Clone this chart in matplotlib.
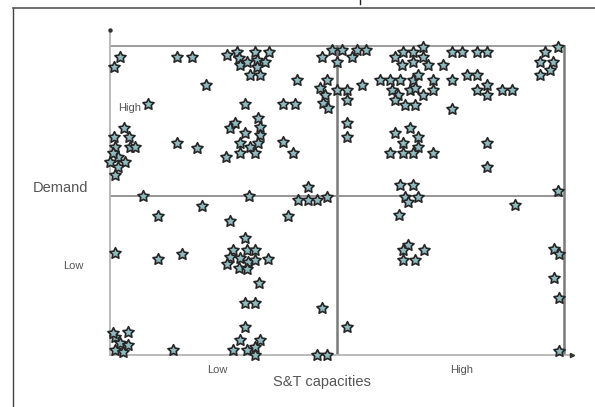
import matplotlib
matplotlib.use("Agg")
import matplotlib.pyplot as plt
from matplotlib.lines import Line2D
from matplotlib.path import Path

plt.rcParams['font.family'] = ['Liberation Sans', 'DejaVu Sans']

# S&T capacity score (0-100) and demand score (0-100) of each region
capacity = [
    2.2, 0.9, 14.8, 18.1, 25.8, 28.0, 28.4, 28.6, 30.2, 31.9, 32.4, 34.1, 35.0, 32.4, 30.8, 33.0,
    21.1, 8.4, 29.7, 3.1, 0.9, 4.2, 4.4, 5.5, 1.1, 0.0, 1.8, 3.3, 1.8, 1.1, 0.7, 14.8,
    19.2, 25.6, 26.4, 27.5, 29.7, 32.6, 33.0, 33.0, 28.6, 30.8, 32.6, 28.6, 31.9, 38.1, 40.3, 38.1,
    40.7, 41.2, 7.3, 30.6, 46.7, 48.9, 50.0, 47.8, 46.3, 47.4, 46.9, 48.0, 50.0, 43.6, 41.4, 43.6,
    45.6, 47.8,
    51.1, 53.3, 54.4, 56.4, 52.2, 52.2, 55.5, 52.2, 52.2, 62.8, 64.5, 66.7, 68.9, 64.3, 66.7, 68.9,
    70.0, 73.3, 75.3, 77.5, 80.8, 83.0, 59.5, 61.7, 63.9, 66.7, 62.1, 63.4, 66.1, 67.2, 67.8, 71.1,
    71.1, 68.9, 62.8, 65.0, 67.2, 75.3, 78.6, 80.8, 80.8, 83.0, 83.0, 86.3, 88.5, 75.3, 94.7, 95.8,
    97.6, 96.9, 94.7, 98.7, 62.8, 66.1, 64.5, 67.8, 67.8, 61.7, 64.5, 66.7, 71.1, 83.0, 83.0, 98.7,
    63.9, 66.7, 65.0, 67.8, 65.6, 89.2,
    10.6, 20.3, 26.4, 39.2, 1.1, 10.6, 15.9, 29.7, 27.1, 30.2, 31.9, 26.4, 28.6, 30.4, 31.9, 34.8,
    25.8, 28.4, 30.2, 32.8, 29.7, 31.9, 29.7, 28.6, 33.0, 27.1, 30.2, 31.9, 31.9, 1.1, 4.0, 2.2,
    4.0, 1.1, 2.9, 0.7, 13.9, 46.7, 45.6, 47.8,
    52.2, 63.7, 65.6, 64.5, 69.2, 64.5, 67.2, 97.8, 98.9, 97.8, 98.9, 98.9,
]
demand = [
    96.4, 93.2, 96.4, 96.4, 97.1, 98.1, 96.1, 93.9, 94.8, 98.1, 95.5, 94.8, 98.1, 93.2, 90.6, 90.6,
    87.4, 81.2, 81.2, 73.5, 70.6, 70.6, 67.3, 67.3, 67.3, 62.5, 64.1, 62.5, 60.8, 58.3, 65.4, 68.6,
    67.0, 64.1, 73.5, 75.1, 71.8, 76.7, 73.8, 71.2, 68.6, 67.3, 68.6, 65.4, 65.4, 68.9, 65.4, 81.2,
    81.2, 89.0, 51.5, 51.5, 96.4, 98.7, 94.8, 89.0, 86.4, 84.1, 81.6, 79.9, 85.8, 54.4, 50.2, 50.2,
    50.2, 51.1,
    98.7, 96.4, 98.7, 98.7, 85.8, 82.5, 87.4, 75.1, 70.6, 96.4, 98.1, 98.1, 99.7, 93.9, 94.8, 96.4,
    93.9, 93.9, 98.1, 98.1, 98.1, 98.1, 89.0, 89.0, 89.0, 89.0, 85.8, 84.1, 85.8, 86.4, 90.6, 89.0,
    85.8, 84.1, 82.5, 80.9, 80.9, 89.0, 90.6, 90.6, 85.8, 87.4, 84.1, 85.8, 85.8, 79.6, 94.8, 98.1,
    94.8, 92.2, 90.6, 99.7, 71.8, 73.5, 68.6, 70.6, 67.3, 65.4, 65.4, 65.4, 65.4, 68.6, 60.8, 53.1,
    55.0, 55.0, 51.1, 51.1, 49.5, 48.5,
    45.0, 48.2, 43.4, 45.0, 33.0, 31.1, 32.7, 37.9, 34.0, 34.0, 34.0, 31.7, 31.4, 30.1, 30.7, 31.1,
    29.4, 28.2, 27.8, 23.3, 16.8, 16.8, 9.1, 4.9, 4.9, 1.6, 1.6, 2.6, 0.0, 5.8, 7.4, 3.9,
    3.2, 1.6, 1.0, 7.1, 1.6, 15.2, 0.0, 0.0,
    9.1, 45.3, 35.6, 34.0, 34.0, 30.7, 30.7, 34.3, 32.7, 24.9, 18.4, 1.3,
]

capacity_split = 50.0
demand_split = 51.5
x_tick_labels = ["Low", "High"]
y_tick_labels = ["High", "Low"]

W, H = 595, 407
fig = plt.figure(figsize=(W / 100, H / 100), dpi=100)
fig.patch.set_facecolor("white")


def fx(px):
    return px / W


def fy(py):
    return 1 - py / H


# outer frame
fig.add_artist(Line2D([fx(13), fx(13)], [fy(8), 0], color="#444444", lw=1.0))
fig.add_artist(Line2D([fx(13), 1], [fy(8), fy(8)], color="#555555", lw=1.2))
fig.add_artist(Line2D([fx(360), fx(360)], [1, fy(4)], color="#222222", lw=1.0))

ax = fig.add_axes([fx(110), fy(355), fx(572) - fx(110), fy(30) - fy(355)])
ax.set_xlim(0, 101.76)
ax.set_ylim(0, 105.18)
for side in ("top", "right"):
    ax.spines[side].set_visible(False)
for side in ("left", "bottom"):
    ax.spines[side].set_color("#b4b4b4")
    ax.spines[side].set_linewidth(1.3)
ax.set_xticks([])
ax.set_yticks([])
ax.patch.set_alpha(0)

# axis arrow heads
ax.plot([0], [105.18], marker="o", ms=2.2, color="#333333", clip_on=False, zorder=5)
ax.plot([101.76], [0], marker=">", ms=3.0, color="#333333", clip_on=False, zorder=5)

# quadrant box and split lines
ax.plot([0, 100], [100, 100], color="#8c8c8c", lw=1.2, zorder=1)
ax.plot([100, 100], [0, 100], color="#7a7a7a", lw=1.8, zorder=1)
ax.plot([capacity_split, capacity_split], [0, 100], color="#7a7a7a", lw=1.8, zorder=1)
ax.plot([0, 100], [demand_split, demand_split], color="#8c8c8c", lw=1.3, zorder=1)

# plump five-pointed star
star = Path.unit_regular_star(5, innerCircle=0.5)

ax.scatter(capacity, demand, marker=star, s=70, facecolor="#8fbbbf",
           edgecolor="#262626", linewidths=1.2, clip_on=False, zorder=3)

txt = dict(color="#555555", ha="center", va="center")
fig.text(fx(130), fy(108), y_tick_labels[0], fontsize=8, **txt)
fig.text(fx(73), fy(266), y_tick_labels[1], fontsize=8, **txt)
fig.text(fx(60), fy(188), "Demand", fontsize=10.5, **txt)
fig.text(fx(217), fy(370), x_tick_labels[0], fontsize=8, **txt)
fig.text(fx(462), fy(370), x_tick_labels[1], fontsize=8, **txt)
fig.text(fx(322), fy(382), "S&T capacities", fontsize=10.5, **txt)

fig.savefig("out.png", dpi=100)
